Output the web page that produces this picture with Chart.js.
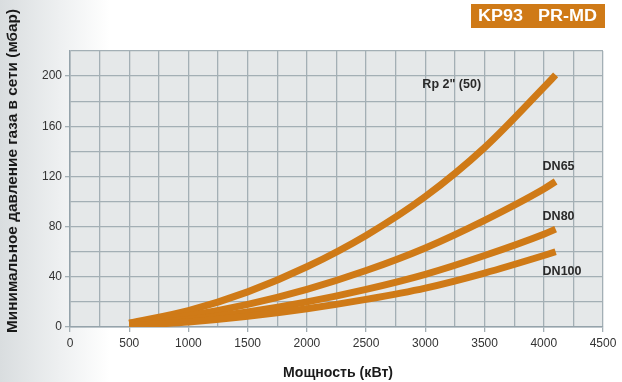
<!DOCTYPE html>
<html>
<head>
<meta charset="utf-8">
<script src="https://cdn.jsdelivr.net/npm/chart.js@4"></script>
<style>
  html, body { margin: 0; padding: 0; background: #fff; }
  #wrap { width: 622px; height: 382px; position: relative; }
</style>
</head>
<body>
<div id="wrap"><canvas id="chart" width="622" height="382"></canvas></div>
<script>
// power, kW
const powerKw = [500, 1000, 1500, 2000, 2500, 3000, 3500, 4000, 4100];
// minimum gas pressure, mbar
const rp2 = [3, 13, 28, 48, 73, 104, 143, 191, 201];
const dn65 = [3, 9, 18, 30, 45, 63, 85, 110, 116];
const dn80 = [2, 6, 12, 20, 30, 42, 57, 74, 78];
const dn100 = [1, 4, 8.5, 14.5, 22, 31, 43, 57, 60];

const seriesNames = ['Rp 2" (50)', "DN65", "DN80", "DN100"];
// label anchors in data units (left edge, middle)
const labelX = [2975, 3990, 3990, 3990];
const labelY = [193, 128, 88, 44];

const ORANGE = "#cf7a17";
const GRID = "#a3afb5";

const toPoints = (ys) => powerKw.map((x, i) => ({ x, y: ys[i] }));

// === background + plot fill ===
const bgPlugin = {
  id: "bg",
  beforeDraw(chart) {
    const { ctx, chartArea: a } = chart;
    ctx.save();
    const g = ctx.createLinearGradient(0, 0, 110, 0);
    g.addColorStop(0, "#d9dddf");
    g.addColorStop(0.55, "#eef0f1");
    g.addColorStop(1, "#ffffff");
    ctx.fillStyle = g;
    ctx.fillRect(0, 0, chart.width, chart.height);
    ctx.fillStyle = "#e5e8e9";
    ctx.fillRect(a.left, a.top, a.right - a.left, a.bottom - a.top);
    ctx.restore();
  }
};

// draw text squeezed/stretched to a given width
function fitText(ctx, text, cx, cy, width, font, color, rotate) {
  ctx.save();
  ctx.font = font;
  ctx.fillStyle = color;
  ctx.textAlign = "center";
  ctx.textBaseline = "middle";
  const w = ctx.measureText(text).width;
  ctx.translate(cx, cy);
  if (rotate) ctx.rotate(-Math.PI / 2);
  ctx.scale(width / w, 1);
  ctx.fillText(text, 0, 0);
  ctx.restore();
}

// === titles, badge, curve labels ===
const textPlugin = {
  id: "texts",
  afterDraw(chart) {
    const { ctx, scales } = chart;
    ctx.save();
    // badge
    ctx.fillStyle = ORANGE;
    ctx.fillRect(471, 4, 134, 24);
    fitText(ctx, "KP93   PR-MD", 537.5, 16.5, 119, "bold 16px 'Liberation Sans', Arial", "#ffffff");
    // axis titles
    fitText(ctx, "Минимальное давление газа в сети (мбар)", 13, 171, 324, "bold 15px 'Liberation Sans', Arial", "#1a1a1a", true);
    fitText(ctx, "Мощность (кВт)", 338, 373, 110, "bold 15px 'Liberation Sans', Arial", "#1a1a1a");
    // curve labels
    ctx.font = "bold 12.5px 'Liberation Sans', Arial";
    ctx.fillStyle = "#2a2a2a";
    ctx.textAlign = "left";
    ctx.textBaseline = "middle";
    seriesNames.forEach((name, i) => {
      ctx.fillText(name, scales.x.getPixelForValue(labelX[i]), scales.y.getPixelForValue(labelY[i]));
    });
    ctx.restore();
  }
};

const mkSet = (label, ys) => ({
  label,
  data: toPoints(ys),
  borderColor: ORANGE,
  borderWidth: 7,
  borderCapStyle: "butt",
  pointRadius: 0,
  fill: false,
  cubicInterpolationMode: "monotone"
});

new Chart(document.getElementById("chart"), {
  type: "line",
  data: {
    datasets: [
      mkSet(seriesNames[3], dn100),
      mkSet(seriesNames[2], dn80),
      mkSet(seriesNames[1], dn65),
      mkSet(seriesNames[0], rp2)
    ]
  },
  options: {
    responsive: false,
    animation: false,
    layout: { padding: { top: 51, right: 19, left: 0, bottom: 0 } },
    plugins: { legend: { display: false }, tooltip: { enabled: false } },
    scales: {
      x: {
        type: "linear",
        min: 0,
        max: 4500,
        ticks: {
          stepSize: 250,
          color: "#333",
          font: { family: "'Liberation Sans', Arial", size: 12 },
          padding: 4,
          maxRotation: 0,
          autoSkip: false,
          callback: (v) => (v % 500 === 0 ? String(v) : "")
        },
        grid: {
          color: GRID,
          lineWidth: 1.3,
          tickLength: 5,
          tickColor: (c) => (c.tick && c.tick.value % 500 === 0 ? GRID : "transparent")
        },
        border: { color: "#95a3ab", width: 1.5 },
        afterFit: (s) => { s.height = 55; }
      },
      y: {
        min: 0,
        max: 220,
        ticks: {
          stepSize: 20,
          color: "#333",
          font: { family: "'Liberation Sans', Arial", size: 12 },
          padding: 3,
          autoSkip: false,
          callback: (v) => (v % 40 === 0 && v <= 200 ? String(v) : "")
        },
        grid: {
          color: GRID,
          lineWidth: 1.3,
          tickLength: 5,
          tickColor: (c) => (c.tick && c.tick.value % 40 === 0 && c.tick.value <= 200 ? GRID : "transparent")
        },
        border: { color: "#95a3ab", width: 1.5 },
        afterFit: (s) => { s.width = 70; }
      }
    }
  },
  plugins: [bgPlugin, textPlugin]
});
</script>
</body>
</html>
